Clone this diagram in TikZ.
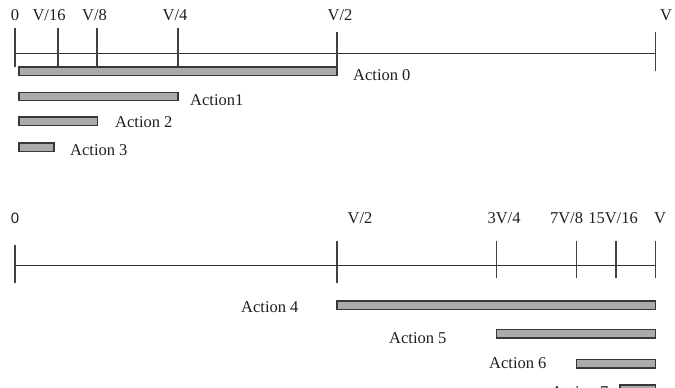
\documentclass[tikz,border=0pt]{standalone}
\usepackage{fontspec}
\setmainfont{Liberation Serif}
\newfontfamily\zerosans{Liberation Sans}
\begin{document}
\begin{tikzpicture}[x=1pt,y=-1pt,
  axisline/.style={draw=black!80,line width=1.3pt},
  tickline/.style={draw=black!75,line width=1.3pt},
  barbox/.style={draw=black!78,fill=black!33,line width=1.3pt},
  ticklabel/.style={inner sep=0pt,font=\fontsize{16.5}{19}\selectfont,text=black!88},
  actlabel/.style={inner sep=0pt,anchor=west,font=\fontsize{16.5}{19}\selectfont,text=black!88}]
\useasboundingbox (0,0) rectangle (675,388);
\clip (0,0) rectangle (675,388);

% ---- upper scale: halving from the left ----
\coordinate (a0) at (15,53.3);
\coordinate (a1) at (655.5,53.3);
\draw[axisline] (a0) -- (a1);
\draw[tickline] (15,28) -- (15,67);
\draw[tickline] (58,28) -- (58,67);
\draw[tickline] (97,28) -- (97,67);
\draw[tickline] (178,28) -- (178,67);
\draw[tickline] (337,32) -- (337,70);
\draw[tickline] (655.5,32) -- (655.5,71);

\node[ticklabel] (ta0) at (15,15) {0};
\node[ticklabel] (ta16) at (49,15) {V/16};
\node[ticklabel] (ta8) at (94.5,15) {V/8};
\node[ticklabel] (ta4) at (175,15) {V/4};
\node[ticklabel] (ta2) at (340,15) {V/2};
\node[ticklabel] (ta1) at (666,15) {V};

\draw[barbox] (19,67) rectangle (337,75.5);
\draw[barbox] (19,92.5) rectangle (178,100.5);
\draw[barbox] (19,117) rectangle (97.5,125.5);
\draw[barbox] (19,143) rectangle (54,151.5);
\node[actlabel] (act0) at (353,75) {Action 0};
\node[actlabel] (act1) at (190,100) {Action1};
\node[actlabel] (act2) at (115,122) {Action 2};
\node[actlabel] (act3) at (70,150.5) {Action 3};

% ---- lower scale: halving from the right ----
\coordinate (b0) at (15,265.7);
\coordinate (b1) at (655.5,265.7);
\draw[axisline] (b0) -- (b1);
\draw[tickline] (15,245) -- (15,283);
\draw[tickline] (337,240.7) -- (337,283);
\draw[tickline] (496.7,240.7) -- (496.7,278);
\draw[tickline] (576.7,240.7) -- (576.7,278);
\draw[tickline] (616,240.7) -- (616,278);
\draw[tickline] (655.5,240.7) -- (655.5,278);

\node[ticklabel,font=\zerosans\fontsize{15}{18}\selectfont] (tb0) at (15,218) {0};
\node[ticklabel] (tb2) at (360,218) {V/2};
\node[ticklabel] (tb34) at (504,218) {3V/4};
\node[ticklabel] (tb78) at (566.5,218) {7V/8};
\node[ticklabel] (tb1516) at (613,218) {15V/16};
\node[ticklabel] (tb1) at (660,218) {V};

\draw[barbox] (337,301) rectangle (655.5,309.5);
\draw[barbox] (496.7,329.5) rectangle (655.5,338);
\draw[barbox] (576.7,359.5) rectangle (655.5,368);
\draw[barbox] (620,385) rectangle (655.5,393.5);
\node[actlabel] (act4) at (241,307.5) {Action 4};
\node[actlabel] (act5) at (389,338) {Action 5};
\node[actlabel] (act6) at (489,363) {Action 6};
\node[actlabel] (act7) at (551,392) {Action 7};
\end{tikzpicture}
\end{document}
